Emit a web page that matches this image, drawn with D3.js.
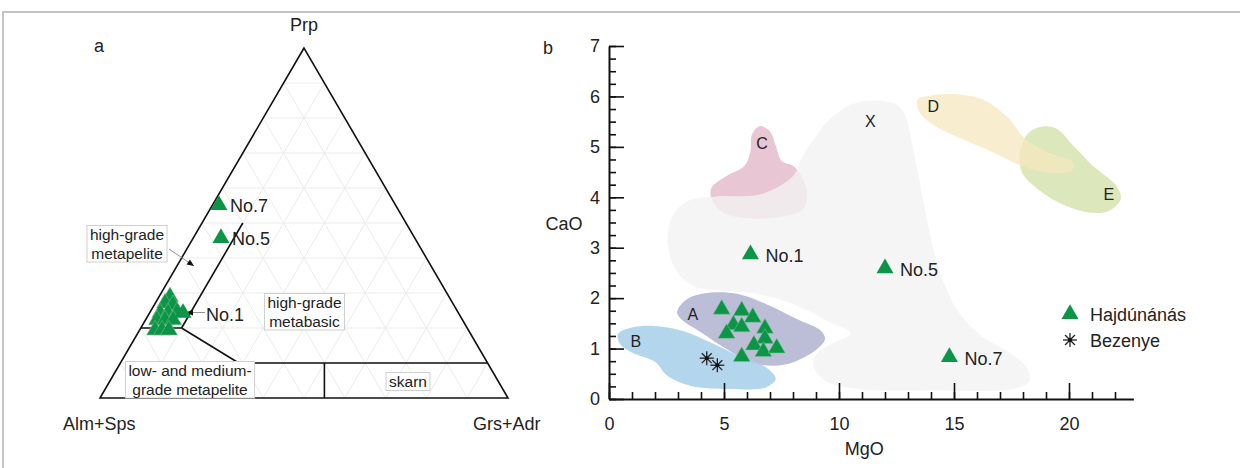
<!DOCTYPE html>
<html>
<head>
<meta charset="utf-8">
<script src="https://cdn.jsdelivr.net/npm/d3@7"></script>
<style>
body { margin: 0; background: #fff; }
text { font-family: "Liberation Sans", Arial, sans-serif; fill: #222; }
</style>
</head>
<body>
<script>
// ---- ternary (a): Prp / Alm+Sps / Grs+Adr, fractions ----
var terPrp = [0.289, 0.271, 0.266, 0.243, 0.243, 0.246, 0.223, 0.223, 0.223, 0.194, 0.194, 0.194];
var terGrs = [0.027, 0.024, 0.046, 0.026, 0.045, 0.066, 0.028, 0.048, 0.068, 0.038, 0.055, 0.072];
var terNamedLabel = ["No.1", "No.5", "No.7"];
var terNamedPrp = [0.243, 0.457, 0.551];
var terNamedGrs = [0.082, 0.068, 0.016];
// field boundaries, each segment [[prp, grs], [prp, grs]]
var terFields = [
  [[0.2, 0], [0.2, 0.1]],
  [[0.2, 0.1], [0.5, 0.1]],
  [[0.2, 0.1], [0.1, 0.29]],
  [[0.1, 0.29], [0.1, 0.9]],
  [[0, 0.55], [0.1, 0.5]]
];
var terGridSteps = [0.1, 0.2, 0.3, 0.4, 0.5, 0.6, 0.7, 0.8, 0.9];

// ---- MgO vs CaO (b) ----
var hajMgO = [4.90, 5.77, 6.25, 5.41, 5.77, 5.11, 6.78, 6.78, 6.30, 6.71, 7.29, 5.77];
var hajCaO = [1.78, 1.75, 1.62, 1.47, 1.43, 1.30, 1.40, 1.20, 1.07, 0.94, 1.01, 0.84];
var namedLabel = ["No.1", "No.5", "No.7"];
var namedMgO = [6.15, 12.0, 14.8];
var namedCaO = [2.87, 2.59, 0.83];
var bezMgO = [4.25, 4.71];
var bezCaO = [0.81, 0.67];

var fieldNames = ["C", "X", "E", "D", "A", "B"];
var fieldOutlines = {
  C: [[6.56,5.41],[6.99,5.31],[7.25,5.02],[7.51,4.72],[8.02,4.62],[8.45,4.36],[8.62,4.03],[8.45,3.76],[7.68,3.63],[6.14,3.58],[4.94,3.70],[4.46,3.96],[4.46,4.19],[5.11,4.42],[5.88,4.62],[6.14,4.88],[6.22,5.25]],
  X: [[2.54,3.17],[2.75,3.62],[3.4,3.92],[4.7,4.02],[6.6,4.06],[8.0,4.42],[8.4,4.8],[8.9,5.15],[9.6,5.55],[10.6,5.85],[11.6,5.92],[12.5,5.84],[12.9,5.6],[13.2,5.0],[13.55,4.2],[13.9,3.4],[14.25,2.7],[14.7,2.15],[15.2,1.72],[16.2,1.25],[17.4,0.92],[18.2,0.6],[18.25,0.33],[17.6,0.2],[14.2,0.17],[10.8,0.2],[9.4,0.36],[8.88,0.66],[9.0,0.88],[9.7,1.1],[10.5,1.3],[9.6,1.52],[8.7,1.74],[7.6,1.95],[6.2,2.1],[4.8,2.15],[3.9,2.2],[3.3,2.35],[2.8,2.65]],
  D: [[13.42,5.94],[14.02,6.02],[15.22,6.04],[16.25,5.94],[17.28,5.61],[18.13,5.15],[19.16,4.88],[20.19,4.69],[20.1,4.52],[19.0,4.49],[17.96,4.62],[16.76,4.88],[15.39,5.15],[14.19,5.41],[13.5,5.68]],
  E: [[18.47,5.35],[19.0,5.41],[19.5,5.35],[20.19,5.02],[21.05,4.62],[22.07,4.22],[22.25,3.96],[21.73,3.73],[20.87,3.70],[19.85,3.83],[18.65,4.16],[17.96,4.49],[17.87,4.88],[18.13,5.21]],
  A: [[2.96,1.72],[3.39,1.98],[4.42,2.11],[5.62,2.08],[6.99,1.85],[8.19,1.58],[9.22,1.35],[9.39,1.19],[9.05,0.99],[8.02,0.73],[7.16,0.66],[6.14,0.73],[5.11,0.99],[3.91,1.35],[3.22,1.55]],
  B: [[0.39,1.29],[0.99,1.42],[2.02,1.45],[3.22,1.35],[4.42,1.12],[5.62,0.86],[6.82,0.63],[7.25,0.40],[6.82,0.23],[5.28,0.20],[3.56,0.26],[2.54,0.46],[2.02,0.73],[0.99,0.92],[0.48,1.09]]
};
var fieldLabelPos = { C: [6.65, 5.08], X: [11.36, 5.51], D: [14.1, 5.82], E: [21.73, 4.06], A: [3.65, 1.68], B: [1.17, 1.16] };
var fieldColor = { C: "#e8c6d3", X: "#f3f3f4", D: "#f6e7bf", E: "#dce7bb", A: "#bcbdd6", B: "#acd3ec" };
var fieldOpacity = { C: 1, X: 0.8, D: 0.75, E: 1, A: 1, B: 0.92 };

var yMajor = [0, 1, 2, 3, 4, 5, 6, 7];
var xMajor = [0, 5, 10, 15, 20];

var W = 1240, H = 468;
var green = "#0c9447";

var svg = d3.select("body").append("svg").attr("width", W).attr("height", H);

// frame
svg.append("path").attr("d", "M3," + H + "V12H" + W)
  .attr("fill", "none").attr("stroke", "#c4c4c4").attr("stroke-width", 2);

// ================= ternary =================
var tx = d3.scaleLinear().domain([0, 1]).range([100, 508]);
var ty = d3.scaleLinear().domain([0, 1]).range([398, 48]);
function tern(prp, grs) { return [tx(grs + prp / 2), ty(prp)]; }

var ga = svg.append("g");
var gridLines = [];
terGridSteps.forEach(function(f) {
  gridLines.push([tern(f, 0), tern(f, 1 - f)]);
  gridLines.push([tern(0, f), tern(1 - f, f)]);
  gridLines.push([tern(0, 1 - f), tern(1 - f, 0)]);
});
ga.selectAll(".grid").data(gridLines).join("path")
  .attr("d", function(d) { return d3.line()(d); })
  .attr("stroke", "#ebebeb").attr("stroke-width", 1).attr("fill", "none");

ga.selectAll(".field").data(terFields).join("path")
  .attr("d", function(d) { return d3.line()(d.map(function(p) { return tern(p[0], p[1]); })); })
  .attr("stroke", "#111").attr("stroke-width", 1.6).attr("fill", "none");

ga.append("path")
  .attr("d", d3.line()([tern(1, 0), tern(0, 0), tern(0, 1)]) + "Z")
  .attr("stroke", "#111").attr("stroke-width", 1.6).attr("fill", "none");

// leader arrows
function arrow(g, x1, y1, x2, y2) {
  g.append("line").attr("x1", x1).attr("y1", y1).attr("x2", x2).attr("y2", y2)
    .attr("stroke", "#777").attr("stroke-width", 0.8);
  var ang = Math.atan2(y2 - y1, x2 - x1) * 180 / Math.PI;
  g.append("path").attr("d", "M0,0L-7,-3L-7,3Z").attr("fill", "#111")
    .attr("transform", "translate(" + x2 + "," + y2 + ") rotate(" + ang + ")");
}
arrow(ga, 169, 249, 194, 266);
arrow(ga, 205, 312.5, 186, 312.5);

var tri = d3.symbol().type(d3.symbolTriangle).size(125);

ga.selectAll(".tc").data(terPrp).join("path")
  .attr("d", tri)
  .attr("transform", function(d, i) { var p = tern(d, terGrs[i]); return "translate(" + p[0] + "," + p[1] + ")"; })
  .attr("fill", green).attr("stroke", "#7cc494").attr("stroke-width", 0.5);

ga.selectAll(".tn").data(terNamedPrp).join("path")
  .attr("d", tri)
  .attr("transform", function(d, i) { var p = tern(d, terNamedGrs[i]); return "translate(" + p[0] + "," + p[1] + ")"; })
  .attr("fill", green);

ga.selectAll(".tnl").data(terNamedPrp).join("text")
  .attr("x", function(d, i) { return i === 0 ? 206 : tern(d, terNamedGrs[i])[0] + 11; })
  .attr("y", function(d, i) { return tern(d, terNamedGrs[i])[1] + (i === 0 ? 8 : 7); })
  .attr("font-size", 18)
  .text(function(d, i) { return terNamedLabel[i]; });

// boxed field labels
var boxLabels = [
  { lines: ["high-grade", "metapelite"], x: 127, y: 240 },
  { lines: ["high-grade", "metabasic"], x: 304.5, y: 308 },
  { lines: ["low- and medium-", "grade metapelite"], x: 190, y: 376 },
  { lines: ["skarn"], x: 408, y: 387 }
];
boxLabels.forEach(function(b) {
  var g = ga.append("g");
  var r = g.append("rect");
  var t = g.append("text").attr("text-anchor", "middle").attr("font-size", 15.5).attr("fill", "#333");
  b.lines.forEach(function(s, i) {
    t.append("tspan").attr("x", b.x).attr("y", b.y + i * 18.5).text(s);
  });
  var bb = t.node().getBBox();
  r.attr("x", bb.x - 3).attr("y", bb.y - 0.5).attr("width", bb.width + 6).attr("height", bb.height + 1)
    .attr("fill", "#fff").attr("stroke", "#cfcfcf").attr("stroke-width", 1);
});

ga.append("text").attr("x", 304).attr("y", 31).attr("text-anchor", "middle").attr("font-size", 18).text("Prp");
ga.append("text").attr("x", 63).attr("y", 430).attr("font-size", 18).text("Alm+Sps");
ga.append("text").attr("x", 473).attr("y", 430).attr("font-size", 18).text("Grs+Adr");
ga.append("text").attr("x", 94).attr("y", 52).attr("font-size", 18).text("a");

// ================= MgO / CaO =================
var x = d3.scaleLinear().domain([0, 22.8]).range([609, 609 + 22.8 * 23]);
var y = d3.scaleLinear().domain([0, 7]).range([399, 46]);
var gb = svg.append("g");

var area = d3.line().x(function(d) { return x(d[0]); }).y(function(d) { return y(d[1]); })
  .curve(d3.curveCatmullRomClosed.alpha(0.5));

fieldNames.forEach(function(n) {
  gb.append("path").attr("d", area(fieldOutlines[n]))
    .attr("fill", fieldColor[n]).attr("fill-opacity", fieldOpacity[n]).attr("stroke", "none");
});
fieldNames.forEach(function(n) {
  gb.append("text").attr("x", x(fieldLabelPos[n][0])).attr("y", y(fieldLabelPos[n][1]) + 6)
    .attr("text-anchor", "middle").attr("font-size", 16).attr("fill", "#333").text(n);
});

// axes
var yAxisMinor = d3.axisLeft(y).tickValues(d3.range(0, 7.01, 0.25)).tickSize(-7).tickFormat("");
var yAxis = d3.axisLeft(y).tickValues(yMajor).tickSize(-15).tickSizeOuter(0).tickPadding(9).tickFormat(d3.format("d"));
var xAxisMinor = d3.axisBottom(x).tickValues(d3.range(0, 22.01, 1)).tickSize(-7).tickFormat("");
var xAxis = d3.axisBottom(x).tickValues(xMajor).tickSize(-16).tickSizeOuter(0).tickPadding(18).tickFormat(d3.format("d"));

function styleAxis(g) {
  g.select(".domain").attr("stroke", "#111").attr("stroke-width", 2);
  g.selectAll(".tick line").attr("stroke", "#111").attr("stroke-width", 1.6);
  g.selectAll(".tick text").attr("font-size", 18).attr("fill", "#222")
    .attr("font-family", "Liberation Sans, Arial, sans-serif");
}
gb.append("g").attr("transform", "translate(609,0)").call(yAxisMinor).call(styleAxis).select(".domain").remove();
gb.append("g").attr("transform", "translate(0,399)").call(xAxisMinor).call(styleAxis).select(".domain").remove();
gb.append("g").attr("transform", "translate(609,0)").call(yAxis).call(styleAxis);
gb.append("g").attr("transform", "translate(0,399)").call(xAxis).call(styleAxis);

gb.append("text").attr("x", x(11.1)).attr("y", 455).attr("text-anchor", "middle").attr("font-size", 18).text("MgO");
gb.append("text").attr("x", 564).attr("y", 230).attr("text-anchor", "middle").attr("font-size", 18).text("CaO");
gb.append("text").attr("x", 543).attr("y", 54).attr("font-size", 18).text("b");

// points
gb.selectAll(".hc").data(hajMgO).join("path")
  .attr("d", tri)
  .attr("transform", function(d, i) { return "translate(" + x(d) + "," + y(hajCaO[i]) + ")"; })
  .attr("fill", green).attr("stroke", "#7cc494").attr("stroke-width", 0.5);

gb.selectAll(".hn").data(namedMgO).join("path")
  .attr("d", tri)
  .attr("transform", function(d, i) { return "translate(" + x(d) + "," + y(namedCaO[i]) + ")"; })
  .attr("fill", green);

gb.selectAll(".hnl").data(namedMgO).join("text")
  .attr("x", function(d) { return x(d) + 15; })
  .attr("y", function(d, i) { return y(namedCaO[i]) + 8; })
  .attr("font-size", 18)
  .text(function(d, i) { return namedLabel[i]; });

function asterisk(g, cx, cy, r) {
  var a = g.append("g").attr("transform", "translate(" + cx + "," + cy + ")");
  [0, 45, 90, 135].forEach(function(ang) {
    var rad = ang * Math.PI / 180;
    a.append("line").attr("x1", -r * Math.cos(rad)).attr("y1", -r * Math.sin(rad))
      .attr("x2", r * Math.cos(rad)).attr("y2", r * Math.sin(rad))
      .attr("stroke", "#222").attr("stroke-width", 1.3);
  });
  a.append("circle").attr("r", 2).attr("fill", "#111");
}
bezMgO.forEach(function(d, i) { asterisk(gb, x(d), y(bezCaO[i]), 7); });

// legend
gb.append("path").attr("d", tri).attr("transform", "translate(1070,314)").attr("fill", green);
gb.append("text").attr("x", 1090).attr("y", 321).attr("font-size", 18).text("Hajdúnánás");
asterisk(gb, 1070, 340, 7);
gb.append("text").attr("x", 1090).attr("y", 347).attr("font-size", 18).text("Bezenye");
</script>
</body>
</html>
